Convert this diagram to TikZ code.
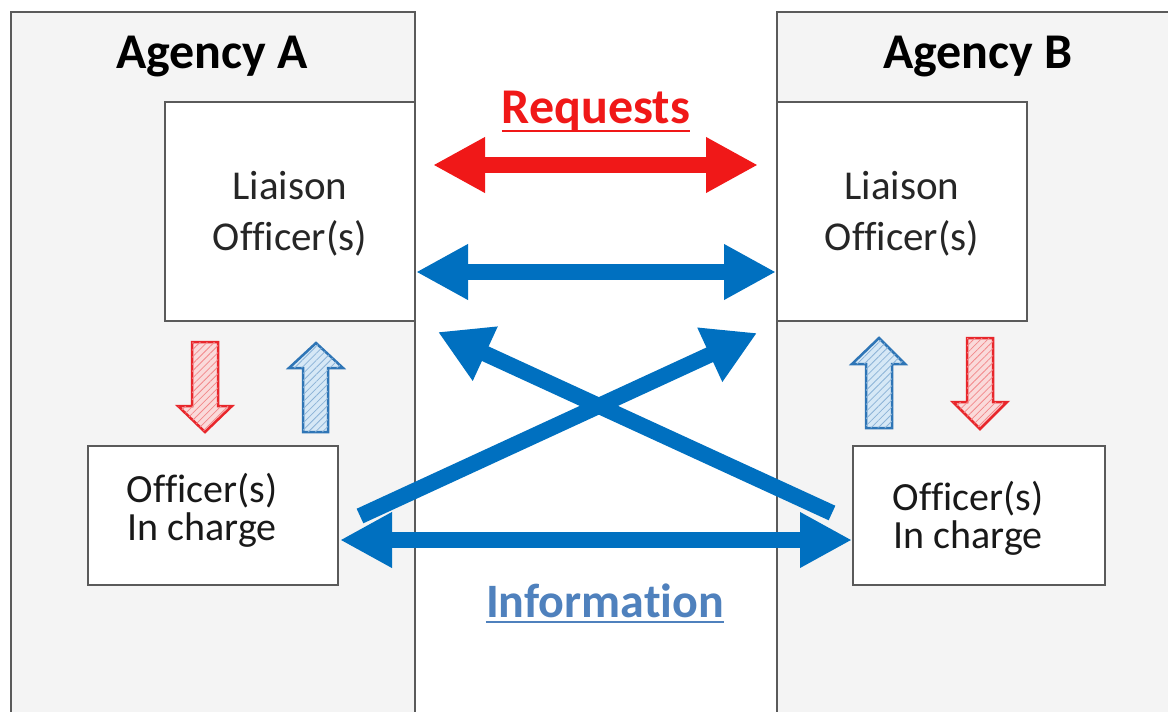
\documentclass[tikz,border=0pt]{standalone}
\usepackage{fontspec}
\setmainfont{Carlito}[Ligatures={NoCommon}]
\usetikzlibrary{arrows.meta,patterns.meta}
\definecolor{arrblue}{HTML}{0070C0}
\definecolor{arrred}{HTML}{F01818}
\definecolor{infoblue}{HTML}{4F81BD}
\definecolor{edgegray}{HTML}{5A5A5A}
\definecolor{agencyfill}{HTML}{F4F4F4}
\definecolor{hatchredfill}{HTML}{FADADA}
\definecolor{hatchbluefill}{HTML}{D6E8F6}
\definecolor{outlred}{HTML}{E8262B}
\definecolor{outlblue}{HTML}{2E75B6}
\begin{document}
\begin{tikzpicture}[x=1pt,y=-1pt,
  agency/.style={draw=edgegray, line width=2pt, fill=agencyfill},
  box/.style={draw=edgegray, line width=2pt, fill=white, inner sep=0pt},
  boxtext/.style={align=center, inner sep=0pt, text=black!90},
  title/.style={inner sep=0pt, font=\fontsize{50}{60}\selectfont\bfseries},
  bigarrow/.style={line width=16pt, {Triangle[length=52pt,width=52pt]}-{Triangle[length=52pt,width=52pt]}},
  onearrow/.style={line width=16pt, -{Triangle[length=52pt,width=56pt]}},
  redhatch/.style={draw=outlred, line width=2.5pt, line join=miter, fill=hatchredfill,
     postaction={pattern={Lines[angle=45,distance=5pt,line width=0.8pt]}, pattern color=outlred!55}},
  bluehatch/.style={draw=outlblue, line width=2.5pt, line join=miter, fill=hatchbluefill,
     postaction={pattern={Lines[angle=45,distance=5pt,line width=0.8pt]}, pattern color=outlblue!55}},
]
\useasboundingbox (0,0) rectangle (1168,712);
\fill[white] (0,0) rectangle (1168,712);
\clip (0,0) rectangle (1168,712);

% agency panels
\path[agency] (11,12) rectangle (415,730);
\path[agency] (777,12) rectangle (1190,730);
\node[title, anchor=base] (agA) at (212,68) {Agency A};
\node[title, anchor=base] (agB) at (978,68) {Agency B};

% boxes
\node[box, minimum width=250pt, minimum height=219pt] (liaA) at (290,211.5) {};
\node[box, minimum width=250pt, minimum height=219pt] (liaB) at (902,211.5) {};
\node[box, minimum width=250pt, minimum height=139pt] (offA) at (213,515.5) {};
\node[box, minimum width=252pt, minimum height=139pt] (offB) at (979,515.5) {};

\node[boxtext, font=\fontsize{41}{51}\selectfont, text=black!85] (liaAt) at (290,214) {Liaison\\Officer(s)};
\node[boxtext, font=\fontsize{41}{51}\selectfont, text=black!85] (liaBt) at (902,214) {Liaison\\Officer(s)};
\node[boxtext, font=\fontsize{40}{38}\selectfont] (offAt) at (202,510) {Officer(s)\\In charge};
\node[boxtext, font=\fontsize{40}{38}\selectfont] (offBt) at (968,518) {Officer(s)\\In charge};

% labels
\node[title, text=arrred, anchor=base] (req) at (596,123) {Requests};
\draw[arrred, line width=2.5pt] ([yshift=-8pt]req.base west) -- ([yshift=-8pt]req.base east);
\node[title, font=\fontsize{48}{58}\selectfont\bfseries, text=infoblue, anchor=base] (info) at (605,617) {Information};
\draw[infoblue, line width=2.5pt] ([yshift=-5pt]info.base west) -- ([yshift=-5pt]info.base east);

% big arrows
\coordinate (rqL) at (433,165);
\coordinate (rqR) at (758,165);
\draw[bigarrow, arrred] (rqL) -- (rqR);
\draw[bigarrow, arrblue] ([yshift=-60.5pt]liaA.east) -- ([yshift=-60.5pt]liaB.west);
\draw[bigarrow, arrblue] ([xshift=1pt,yshift=-24.5pt]offA.east) -- ([yshift=-24.5pt]offB.west);

\coordinate (xAtail) at (360,516);
\coordinate (xAtip) at (757,333);
\coordinate (xBtail) at (832,513);
\coordinate (xBtip) at (438,332);
\draw[onearrow, arrblue] (xAtail) -- (xAtip);
\draw[onearrow, arrblue] (xBtail) -- (xBtip);

% hatched block arrows
\path[redhatch] (192,342) -- (218,342) -- (218,406) -- (232,406) -- (205,432) -- (178,406) -- (192,406) -- cycle;
\path[bluehatch] (303,432) -- (328,432) -- (328,368) -- (343,368) -- (316,343) -- (289,368) -- (303,368) -- cycle;
\path[bluehatch] (866,428) -- (892,428) -- (892,364) -- (905,364) -- (879,338) -- (852,364) -- (866,364) -- cycle;
\path[redhatch] (967,338) -- (993,338) -- (993,402) -- (1007,402) -- (980,429) -- (953,402) -- (967,402) -- cycle;
\end{tikzpicture}
\end{document}
